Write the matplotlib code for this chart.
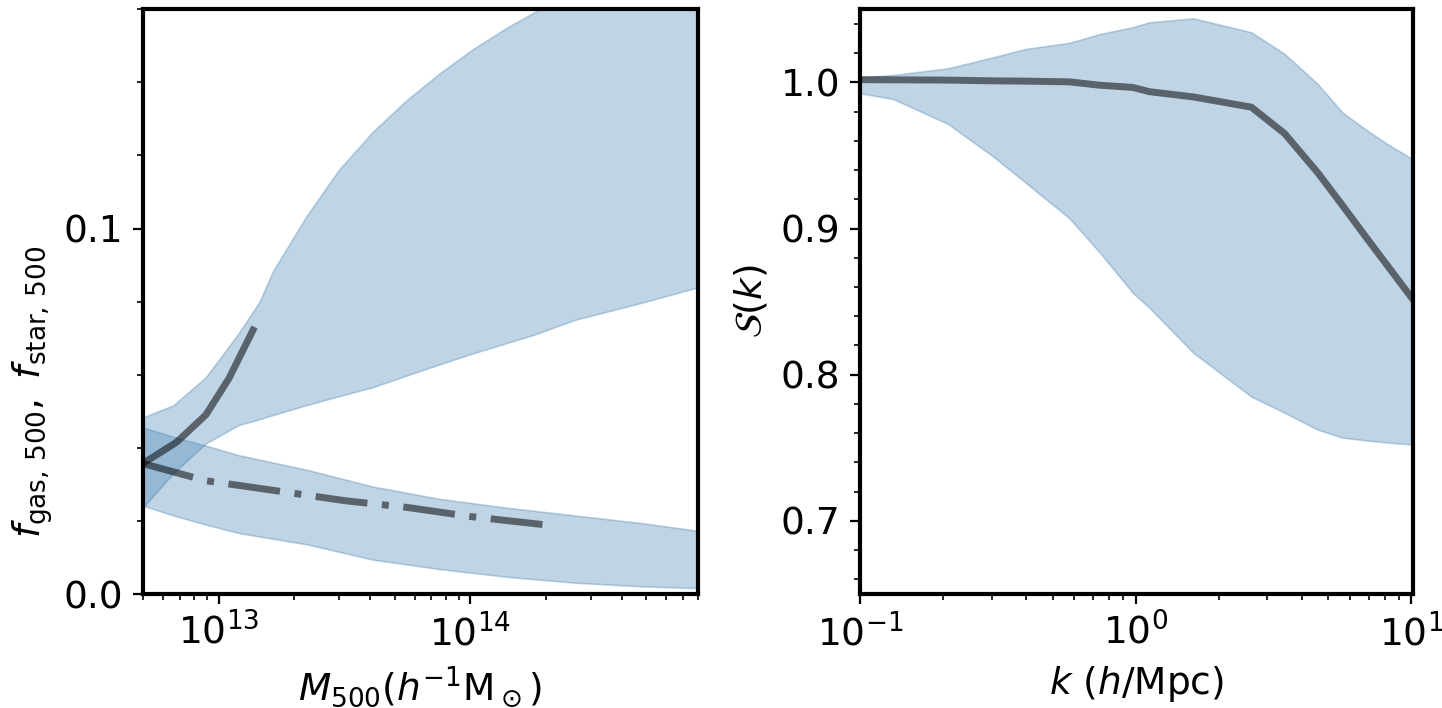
import matplotlib
matplotlib.use("Agg")
import matplotlib.pyplot as plt
from matplotlib.ticker import MultipleLocator, AutoMinorLocator

# ---- left panel: gas / stellar fractions vs halo mass ----
M_GAS = [5.0e12, 6.6e12, 8.9e12, 1.2e13, 1.45e13, 1.65e13, 2.24e13, 3.0e13,
         4.1e13, 5.6e13, 7.6e13, 1.02e14, 1.4e14, 1.8e14, 2.6e14, 4.8e14, 8.0e14]
GAS_HI = [0.0483, 0.0516, 0.0593, 0.0713, 0.0798, 0.0885, 0.1035, 0.1160,
          0.1265, 0.1352, 0.1426, 0.1490, 0.1550, 0.1592, 0.1660, 0.1760, 0.1830]
GAS_LO = [0.0236, 0.0330, 0.0412, 0.0462, 0.0478, 0.0490, 0.0517, 0.0541,
          0.0566, 0.0598, 0.0629, 0.0658, 0.0687, 0.0710, 0.0750, 0.0797, 0.0839]

M_STAR = [5.0e12, 6.6e12, 8.9e12, 1.2e13, 2.24e13, 4.1e13, 7.6e13, 1.4e14,
          2.6e14, 4.8e14, 8.0e14]
STAR_HI = [0.0456, 0.0430, 0.0406, 0.0380, 0.0340, 0.0294, 0.0260, 0.0236,
           0.0215, 0.0194, 0.0173]
STAR_LO = [0.0242, 0.0215, 0.0190, 0.0167, 0.0136, 0.0094, 0.0068, 0.0047,
           0.0031, 0.0021, 0.0016]

M_GAS_MED = [5.0e12, 6.8e12, 8.9e12, 1.1e13, 1.37e13]
GAS_MED = [0.0357, 0.0415, 0.0490, 0.0590, 0.0722]

M_STAR_MED = [5.0e12, 8.9e12, 1.6e13, 3.2e13, 5.6e13, 1.0e14, 2.0e14]
STAR_MED = [0.0357, 0.0310, 0.0285, 0.0255, 0.0237, 0.0212, 0.0189]

# ---- right panel: power suppression S(k) ----
K = [0.1, 0.132, 0.209, 0.302, 0.398, 0.575, 0.741, 0.977, 1.12, 1.62,
     2.63, 3.47, 4.57, 5.62, 6.92, 8.32, 10.0]
S_HI = [1.0034, 1.0050, 1.0096, 1.0170, 1.0228, 1.0270, 1.0330, 1.0377, 1.0410,
        1.0438, 1.0342, 1.0195, 0.9990, 0.9795, 0.9670, 0.9570, 0.9480]
S_MED = [1.0018, 1.0017, 1.0015, 1.0010, 1.0008, 1.0003, 0.9980, 0.9965, 0.9936,
         0.9900, 0.9830, 0.9650, 0.9384, 0.9160, 0.8930, 0.8730, 0.8530]
S_LO = [0.9925, 0.9886, 0.9714, 0.9497, 0.9315, 0.9070, 0.8836, 0.8560, 0.8459,
        0.8150, 0.7850, 0.7740, 0.7625, 0.7570, 0.7550, 0.7535, 0.7523]

BAND = dict(color="steelblue", alpha=0.34, linewidth=0.6)
LINE = dict(color="k", alpha=0.53, lw=2.5)

plt.rcParams["font.size"] = 13.5

fig = plt.figure(figsize=(7.21, 3.54), dpi=200)
ax1 = fig.add_axes([0.099, 0.161, 0.3849, 0.826])
ax2 = fig.add_axes([0.5964, 0.161, 0.3835, 0.826])

ax1.fill_between(M_GAS, GAS_LO, GAS_HI, **BAND)
ax1.fill_between(M_STAR, STAR_LO, STAR_HI, **BAND)
ax1.plot(M_GAS_MED, GAS_MED, **LINE)
ax1.plot(M_STAR_MED, STAR_MED, dashes=(7.5, 2.1, 1.0, 2.1), **LINE)
ax1.set_xscale("log")
ax1.set_xlim(5e12, 8e14)
ax1.set_ylim(0, 0.16)
ax1.yaxis.set_major_locator(MultipleLocator(0.1))
ax1.yaxis.set_minor_locator(AutoMinorLocator(5))
ax1.set_xlabel(r"$M_{500}(h^{-1}{\rm M}_\odot)$")
ax1.set_ylabel(r"$f_{\rm gas,\,500},\ f_{\rm star,\,500}$")
ax1.yaxis.set_label_coords(-0.158, 0.345)

ax2.fill_between(K, S_LO, S_HI, **BAND)
ax2.plot(K, S_MED, **LINE)
ax2.set_xscale("log")
ax2.set_xlim(0.1, 10.15)
ax2.set_ylim(0.65, 1.05)
ax2.yaxis.set_major_locator(MultipleLocator(0.1))
ax2.yaxis.set_minor_locator(AutoMinorLocator(5))
ax2.set_xlabel(r"$k$ ($h$/Mpc)")
ax2.set_ylabel(r"$\mathcal{S}(k)$")

for ax in (ax1, ax2):
    for sp in ax.spines.values():
        sp.set_linewidth(1.5)
    ax.tick_params(which="both", direction="out", top=False, right=False)

fig.savefig("out.png", dpi=200)
